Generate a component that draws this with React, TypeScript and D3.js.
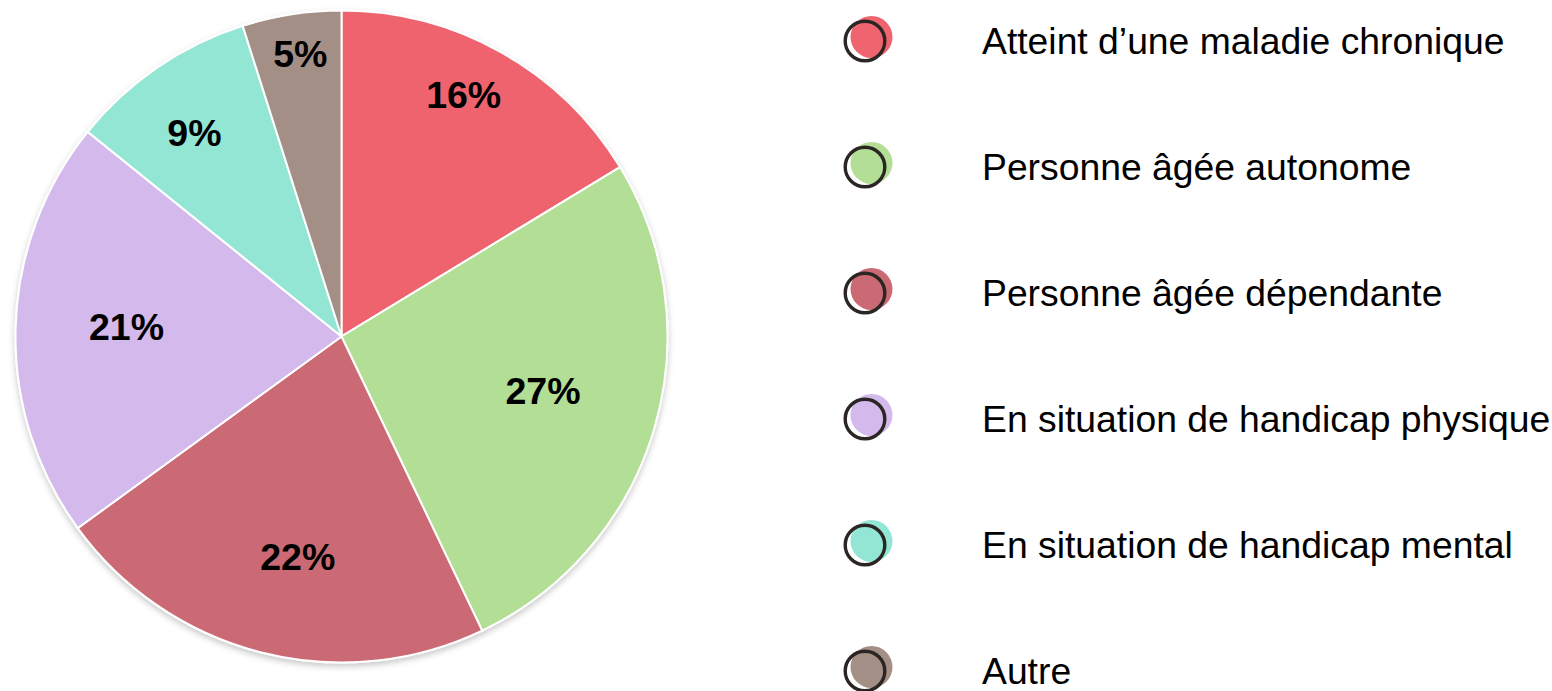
import * as d3 from "d3";

const categories = [
  "Atteint d’une maladie chronique",
  "Personne âgée autonome",
  "Personne âgée dépendante",
  "En situation de handicap physique",
  "En situation de handicap mental",
  "Autre",
];
const shares = [16.3, 26.6, 22.1, 20.8, 9.3, 4.9];
const colors = ["#EF646E", "#B3DE95", "#CB6A74", "#D3B9EC", "#92E6D3", "#A48F86"];
// label placement: fraction of radius, and nudge from the mid-angle (degrees)
const labelRadius = [0.83, 0.64, 0.69, 0.66, 0.77, 0.875];
const labelNudge = [-2.5, -1.5, -3, 1, -1.5, 0.5];

const W = 1552;
const H = 691;
const cx = 341.5;
const cy = 336.5;
const R = 326;

export default function App() {
  const slices = d3
    .pie<number>()
    .sort(null)
    .value((d) => d)(shares);
  const arc = d3.arc<d3.PieArcDatum<number>>().innerRadius(0).outerRadius(R);

  const legendY = d3
    .scalePoint<number>()
    .domain(d3.range(categories.length))
    .range([41, 671]);

  return (
    <svg
      width={W}
      height={H}
      viewBox={`0 0 ${W} ${H}`}
      style={{ position: "absolute", left: 0, top: 0, background: "#fff" }}
      fontFamily="'Liberation Sans', Arial, sans-serif"
    >
      <defs>
        <filter id="pieShadow" x="-10%" y="-10%" width="120%" height="120%">
          <feDropShadow dx="0" dy="3" stdDeviation="3" floodColor="#000" floodOpacity="0.22" />
        </filter>
      </defs>
      <g transform={`translate(${cx},${cy})`}>
        <g filter="url(#pieShadow)">
          {slices.map((s, i) => (
            <path key={i} d={arc(s) ?? ""} fill={colors[i]} stroke="#fff" strokeWidth={2} />
          ))}
        </g>
        {slices.map((s, i) => {
          const a = (s.startAngle + s.endAngle) / 2 + (labelNudge[i] * Math.PI) / 180;
          const r = R * labelRadius[i];
          return (
            <text
              key={i}
              x={Math.sin(a) * r}
              y={-Math.cos(a) * r}
              textAnchor="middle"
              dominantBaseline="central"
              fontWeight="bold"
              fontSize={37.5}
              fill="#000"
            >
              {Math.round(s.data)}%
            </text>
          );
        })}
      </g>
      <g>
        {categories.map((c, i) => {
          const y = legendY(i) ?? 0;
          return (
            <g key={c}>
              <circle cx={871.5} cy={y - 4} r={21} fill={colors[i]} />
              <circle cx={865} cy={y} r={19.8} fill="none" stroke="#2B2523" strokeWidth={3.4} />
              <text x={982} y={y + 13} fontSize={37.3} fill="#000">
                {c}
              </text>
            </g>
          );
        })}
      </g>
    </svg>
  );
}
